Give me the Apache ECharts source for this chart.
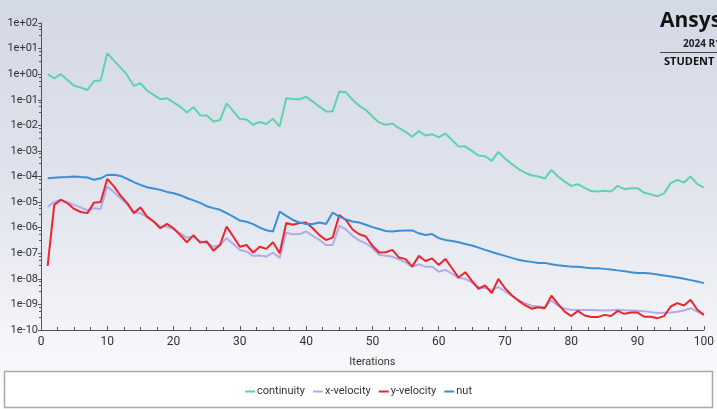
<!DOCTYPE html>
<html>
<head>
<meta charset="utf-8">
<script src="https://cdn.jsdelivr.net/npm/echarts@6/dist/echarts.min.js"></script>
<style>
  html, body { margin: 0; padding: 0; }
  #chart { width: 717px; height: 409px; }
</style>
</head>
<body>
<div id="chart"></div>
<script>
// Scaled residuals per solver iteration (iterations 1..100)
const iterations = Array.from({ length: 100 }, (_, i) => i + 1);

const continuity = [
  1.0, 0.69, 1.0, 0.59, 0.35, 0.30, 0.24, 0.54, 0.56, 6.6,
  3.4, 1.8, 0.91, 0.35, 0.44, 0.23, 0.155, 0.105, 0.115, 0.079,
  0.054, 0.032, 0.051, 0.025, 0.024, 0.014, 0.016, 0.072, 0.036, 0.018,
  0.017, 0.0105, 0.0135, 0.0112, 0.018, 0.0089, 0.115, 0.107, 0.105, 0.129,
  0.085, 0.054, 0.035, 0.035, 0.21, 0.195, 0.1, 0.058, 0.04, 0.022,
  0.013, 0.0105, 0.0118, 0.0078, 0.0056, 0.0036, 0.006, 0.004, 0.0045, 0.0034,
  0.0048, 0.0027, 0.0015, 0.00148, 0.001, 6.6e-4, 6.2e-4, 4.1e-4, 9.1e-4, 5.1e-4,
  3.1e-4, 2.0e-4, 1.4e-4, 1.12e-4, 1.0e-4, 8.3e-5, 1.8e-4, 1.0e-4, 6.3e-5, 4.3e-5,
  5.0e-5, 3.6e-5, 2.7e-5, 2.6e-5, 2.75e-5, 2.6e-5, 4.3e-5, 3.2e-5, 3.5e-5, 3.5e-5,
  2.3e-5, 2.0e-5, 1.7e-5, 2.2e-5, 5.5e-5, 7.4e-5, 5.8e-5, 1.0e-4, 5.0e-5, 3.7e-5
];

const xVelocity = [
  6.6e-6, 1.0e-5, 1.23e-5, 1.0e-5, 7.8e-6, 6.2e-6, 4.7e-6, 5.8e-6, 5.4e-6, 4.1e-5,
  2.45e-5, 1.41e-5, 8.3e-6, 4.3e-6, 3.7e-6, 2.6e-6, 1.74e-6, 1.1e-6, 1.1e-6, 8.7e-7,
  6.0e-7, 4.1e-7, 4.3e-7, 2.95e-7, 2.5e-7, 1.8e-7, 2.1e-7, 3.9e-7, 2.3e-7, 1.35e-7,
  1.17e-7, 7.9e-8, 8.1e-8, 7.4e-8, 1.07e-7, 6.5e-8, 6.3e-7, 5.5e-7, 5.6e-7, 7.1e-7,
  4.8e-7, 3.3e-7, 2.1e-7, 2.1e-7, 1.17e-6, 8.5e-7, 4.8e-7, 3.2e-7, 2.45e-7, 1.6e-7,
  8.7e-8, 7.9e-8, 7.4e-8, 5.8e-8, 4.4e-8, 3.0e-8, 3.7e-8, 3.0e-8, 3.0e-8, 1.9e-8,
  2.24e-8, 1.58e-8, 1.07e-8, 1.0e-8, 7.2e-9, 4.6e-9, 4.4e-9, 3.7e-9, 4.8e-9, 3.2e-9,
  2.2e-9, 1.5e-9, 1.12e-9, 8.9e-10, 8.3e-10, 7.9e-10, 1.41e-9, 8.9e-10, 6.8e-10, 6.2e-10,
  6.0e-10, 6.0e-10, 6.0e-10, 5.9e-10, 5.8e-10, 5.9e-10, 6.2e-10, 5.9e-10, 5.8e-10, 5.6e-10,
  5.4e-10, 5.0e-10, 4.6e-10, 4.7e-10, 4.8e-10, 5.2e-10, 5.8e-10, 7.1e-10, 5.2e-10, 3.9e-10
];

const yVelocity = [
  3.2e-8, 7.8e-6, 1.23e-5, 9.1e-6, 5.4e-6, 4.1e-6, 3.7e-6, 9.5e-6, 1.0e-5, 8.1e-5,
  4.1e-5, 1.78e-5, 9.1e-6, 3.7e-6, 6.2e-6, 2.7e-6, 1.74e-6, 9.5e-7, 1.41e-6, 9.5e-7,
  5.1e-7, 2.7e-7, 5.1e-7, 2.6e-7, 2.9e-7, 1.26e-7, 2.1e-7, 1.1e-6, 4.5e-7, 1.8e-7,
  2.1e-7, 1.07e-7, 1.8e-7, 1.48e-7, 2.7e-7, 1.0e-7, 1.51e-6, 1.29e-6, 1.51e-6, 1.58e-6,
  9.5e-7, 5.1e-7, 3.3e-7, 4.1e-7, 3.1e-6, 2.0e-6, 8.5e-7, 5.5e-7, 4.5e-7, 1.95e-7,
  1.07e-7, 1.1e-7, 1.35e-7, 6.8e-8, 5.9e-8, 3.0e-8, 7.9e-8, 5.0e-8, 6.3e-8, 3.5e-8,
  6.0e-8, 2.6e-8, 1.12e-8, 1.82e-8, 8.3e-9, 4.1e-9, 5.5e-9, 2.75e-9, 1.0e-8, 4.3e-9,
  2.3e-9, 1.41e-9, 9.3e-10, 6.8e-10, 7.8e-10, 7.1e-10, 2.2e-9, 1.02e-9, 5.2e-10, 3.5e-10,
  5.6e-10, 3.7e-10, 3.2e-10, 3.2e-10, 3.9e-10, 3.5e-10, 5.6e-10, 4.3e-10, 4.8e-10, 4.8e-10,
  3.3e-10, 3.3e-10, 2.9e-10, 3.5e-10, 8.3e-10, 1.12e-9, 9.1e-10, 1.51e-9, 6.2e-10, 3.9e-10
];

const nut = [
  8.5e-5, 8.9e-5, 9.3e-5, 9.5e-5, 1.0e-4, 9.5e-5, 9.1e-5, 7.4e-5, 8.5e-5, 1.15e-4,
  1.17e-4, 1.05e-4, 8.1e-5, 6.0e-5, 4.7e-5, 3.8e-5, 3.4e-5, 3.0e-5, 2.5e-5, 2.2e-5,
  1.86e-5, 1.45e-5, 1.17e-5, 9.3e-6, 6.9e-6, 5.8e-6, 5.0e-6, 3.7e-6, 2.7e-6, 1.9e-6,
  1.7e-6, 1.38e-6, 1.0e-6, 7.9e-7, 7.1e-7, 4.2e-6, 2.9e-6, 2.0e-6, 1.6e-6, 1.38e-6,
  1.38e-6, 1.6e-6, 1.4e-6, 3.9e-6, 2.7e-6, 2.1e-6, 1.74e-6, 1.6e-6, 1.3e-6, 1.05e-6,
  8.9e-7, 7.4e-7, 7.1e-7, 7.6e-7, 7.8e-7, 7.8e-7, 6.0e-7, 5.2e-7, 5.6e-7, 3.9e-7,
  3.3e-7, 3.0e-7, 2.7e-7, 2.3e-7, 2.0e-7, 1.66e-7, 1.35e-7, 1.12e-7, 9.3e-8, 7.9e-8,
  6.6e-8, 5.6e-8, 5.0e-8, 4.6e-8, 4.2e-8, 4.2e-8, 3.7e-8, 3.4e-8, 3.2e-8, 3.0e-8,
  2.95e-8, 2.75e-8, 2.6e-8, 2.57e-8, 2.45e-8, 2.3e-8, 2.14e-8, 2.0e-8, 1.8e-8, 1.7e-8,
  1.7e-8, 1.62e-8, 1.48e-8, 1.35e-8, 1.23e-8, 1.12e-8, 1.0e-8, 8.9e-9, 7.8e-9, 6.8e-9
];

const seriesNames = ['continuity', 'x-velocity', 'y-velocity', 'nut'];
const seriesColors = ['#5fd1b1', '#b0ace8', '#e8262b', '#3b8fd2'];
const seriesData = [continuity, xVelocity, yVelocity, nut];

// Axis tick labels in the solver's "1e+02" style
function expLabel(v) {
  const s = Number(v).toExponential(0);
  return s.replace(/e([+-])(\d)$/, 'e$10$2');
}

const chart = echarts.init(document.getElementById('chart'), null, { renderer: 'canvas' });

const labelFont = 'Roboto, "Noto Sans", sans-serif';

chart.setOption({
  animation: false,
  backgroundColor: new echarts.graphic.LinearGradient(0, 0, 0, 1, [
    { offset: 0, color: '#d3d8e5' },
    { offset: 0.5, color: '#e2e5ee' },
    { offset: 0.88, color: '#f7f8fa' },
    { offset: 1, color: '#ffffff' }
  ]),
  grid: { left: 41, right: 9, top: 23, bottom: 79, containLabel: false },
  xAxis: {
    type: 'value',
    min: 0,
    max: 100,
    interval: 10,
    name: 'Iterations',
    nameLocation: 'middle',
    nameGap: 27,
    nameTextStyle: { color: '#333', fontSize: 11, fontFamily: labelFont },
    axisLine: { lineStyle: { color: '#555', width: 1 } },
    axisTick: { inside: true, length: 4, lineStyle: { color: '#555' } },
    minorTick: { show: true, splitNumber: 4, length: 3, lineStyle: { color: '#555' } },
    axisLabel: { color: '#333', fontSize: 12, margin: 6, fontFamily: labelFont },
    splitLine: { show: false }
  },
  yAxis: {
    type: 'log',
    logBase: 10,
    min: 1e-10,
    max: 100,
    interval: 1,
    axisLine: { show: true, lineStyle: { color: '#555', width: 1 } },
    axisTick: { show: true, inside: false, length: 3, lineStyle: { color: '#555' } },
    minorTick: { show: true, splitNumber: 4, length: 2, lineStyle: { color: '#555' } },
    axisLabel: { color: '#333', fontSize: 11, margin: 3, fontFamily: labelFont, formatter: expLabel },
    splitLine: { show: false }
  },
  legend: {
    data: seriesNames,
    left: 'center',
    top: 381,
    icon: 'rect',
    itemWidth: 10,
    itemHeight: 2,
    itemGap: 8,
    textStyle: { color: '#333', fontSize: 11, fontFamily: labelFont, padding: [0, 0, 0, -3] }
  },
  graphic: [
    {
      type: 'rect',
      z: -1,
      shape: { x: 4.5, y: 371.5, width: 708, height: 36 },
      style: { fill: '#ffffff', stroke: '#a9a9a9', lineWidth: 1.5 }
    },
    {
      type: 'text',
      left: 660,
      top: 11,
      style: { text: 'Ansys', fill: '#111', font: 'bold 21px "Open Sans", sans-serif' }
    },
    {
      type: 'text',
      left: 683,
      top: 39,
      style: { text: '2024 R1', fill: '#222', font: 'bold 10px "Open Sans", sans-serif' }
    },
    {
      type: 'line',
      shape: { x1: 660, y1: 52.5, x2: 717, y2: 52.5 },
      style: { stroke: '#444', lineWidth: 1 }
    },
    {
      type: 'text',
      left: 664,
      top: 56,
      style: { text: 'STUDENT', fill: '#111', font: 'bold 11px "Open Sans", sans-serif' }
    }
  ],
  series: seriesNames.map((name, k) => ({
    name: name,
    type: 'line',
    showSymbol: false,
    symbol: 'none',
    lineStyle: { width: 2, color: seriesColors[k] },
    itemStyle: { color: seriesColors[k] },
    data: iterations.map((it, i) => [it, seriesData[k][i]]),
    z: k === 1 ? 2 : 3
  }))
});
</script>
</body>
</html>
